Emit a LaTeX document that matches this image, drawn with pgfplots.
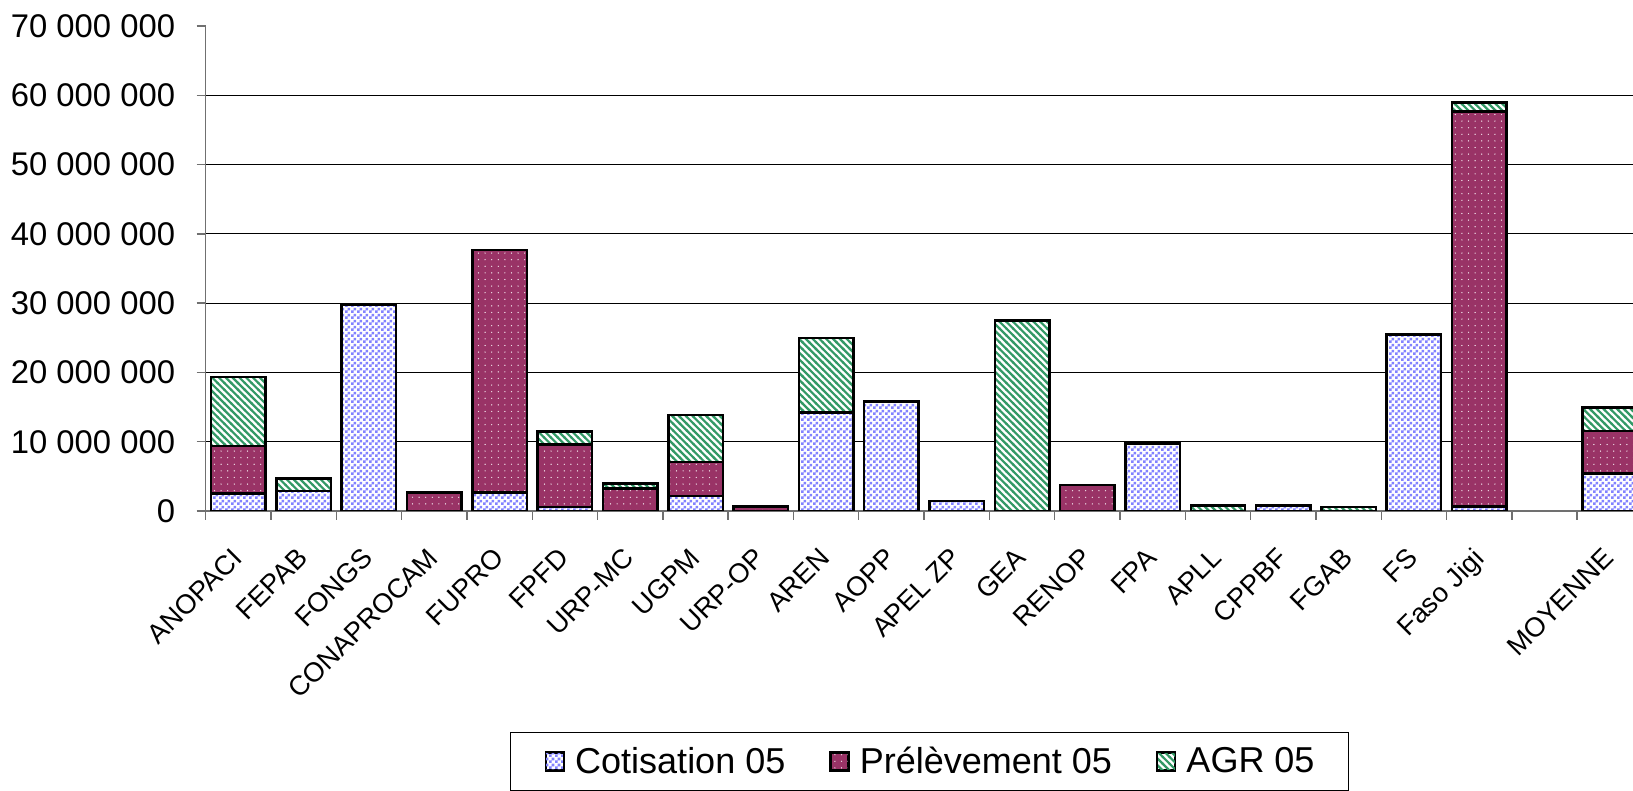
\documentclass[border=0pt]{standalone}
\usepackage{fontspec}
\setmainfont{Liberation Sans}
\usepackage{pgfplots}
\pgfplotsset{compat=1.18}
\usepackage{pgfplotstable}
\usetikzlibrary{patterns}
\definecolor{cotblue}{HTML}{8282FF}
\definecolor{prelev}{HTML}{993366}
\definecolor{agrgreen}{HTML}{339966}
\definecolor{axgray}{HTML}{707070}

\pgfdeclarepatternformonly{xchecker}{\pgfqpoint{0pt}{0pt}}{\pgfqpoint{2.8pt}{2.8pt}}{\pgfqpoint{2.8pt}{2.8pt}}{%
  \pgfpathrectangle{\pgfqpoint{0pt}{0pt}}{\pgfqpoint{1.4pt}{1.4pt}}%
  \pgfpathrectangle{\pgfqpoint{1.4pt}{1.4pt}}{\pgfqpoint{1.4pt}{1.4pt}}%
  \pgfusepath{fill}}
\pgfdeclarepatternformonly{xdots}{\pgfqpoint{-0.5pt}{-0.5pt}}{\pgfqpoint{3.8pt}{3.8pt}}{\pgfqpoint{3.3pt}{3.3pt}}{%
  \pgfpathcircle{\pgfqpoint{1.65pt}{1.65pt}}{0.35pt}%
  \pgfusepath{fill}}
\pgfdeclarepatternformonly{xstripes}{\pgfqpoint{-1pt}{-1pt}}{\pgfqpoint{4.4pt}{4.4pt}}{\pgfqpoint{3.4pt}{3.4pt}}{%
  \pgfsetlinewidth{1.1pt}%
  \pgfpathmoveto{\pgfqpoint{-0.3pt}{3.7pt}}%
  \pgfpathlineto{\pgfqpoint{3.7pt}{-0.3pt}}%
  \pgfusepath{stroke}}

\pgfplotstableread{
x C P A
0 2500000 6900000 9950000
1 2890000 0 1770000
2 29800000 0 0
3 0 2700000 0
4 2640000 35000000 0
5 580000 9000000 1930000
6 0 3270000 670000
7 2160000 4900000 6830000
8 0 620000 0
9 14200000 0 10800000
10 15800000 0 0
11 1440000 0 0
12 0 0 27500000
13 0 3750000 0
14 9720000 0 0
15 0 0 770000
16 770000 0 0
17 0 0 580000
18 25450000 0 0
19 670000 57000000 1270000
21 5380000 6160000 3370000
}\data

\begin{document}
\begin{tikzpicture}
\useasboundingbox (-102.85pt,-140pt) rectangle (713.65pt,255.5pt);
\clip (-102.85pt,-140pt) rectangle (713.65pt,255.5pt);
\begin{axis}[
  at={(0pt,0pt)}, anchor=south west,
  scale only axis, width=718.4pt, height=242.5pt,
  ybar stacked, bar width=0.834,
  xmin=-0.5, xmax=21.5, ymin=0, ymax=70000000,
  enlarge x limits=false, enlarge y limits=false,
  axis lines=left,
  axis line style={-, draw=axgray, line width=0.7pt},
  xtick={-0.5,0.5,...,20.5},
  xticklabels={ANOPACI,FEPAB,FONGS,CONAPROCAM,FUPRO,FPFD,URP-MC,UGPM,URP-OP,AREN,AOPP,APEL ZP,GEA,RENOP,FPA,APLL,CPPBF,FGAB,FS,Faso Jigi,{},MOYENNE},
  ytick={0,10000000,20000000,30000000,40000000,50000000,60000000},
  extra y ticks={70000000}, extra y tick style={grid=none},
  ymajorgrids, major grid style={black, line width=0.5pt},
  tick align=outside, major tick length=4.5pt,
  tick style={axgray, line width=0.7pt},
  scaled y ticks=false,
  /pgf/number format/fixed,
  /pgf/number format/1000 sep={\ },
  /pgf/number format/assume math mode=true,
  yticklabel style={font=\fontsize{16.4}{18}\selectfont, anchor=east, inner sep=0pt, xshift=-10.6pt},
  xticklabel style={font=\fontsize{13.6}{16}\selectfont, inner sep=0pt, xshift=12.4pt, yshift=-13pt, rotate=45, anchor=north east},
  legend style={at={(0.2118,-0.4557)}, anchor=north west, draw=black, line width=0.7pt,
    font=\fontsize{18}{21}\selectfont, inner xsep=17pt, inner ysep=7pt,
    nodes={inner sep=0pt},
    /tikz/every even column/.append style={column sep=22pt}},
  legend columns=3,
  legend image code/.code={%
    \path (0pt,0pt) (14pt,0pt);
    \draw[#1, line width=0.5pt] (0pt,-4.5pt) rectangle (9pt,4.5pt);},
]
\addplot[draw=black, line width=1.25pt, preaction={fill=white}, pattern=xchecker, pattern color=cotblue] table[x=x,y=C] {\data};
\addplot[draw=black, line width=1.25pt, preaction={fill=prelev}, pattern=xdots, pattern color=white!85!prelev] table[x=x,y=P] {\data};
\addplot[draw=black, line width=1.25pt, preaction={fill=white}, pattern=xstripes, pattern color=agrgreen] table[x=x,y=A] {\data};
\legend{Cotisation 05,Prélèvement 05,AGR 05}
\end{axis}
\end{tikzpicture}
\end{document}
